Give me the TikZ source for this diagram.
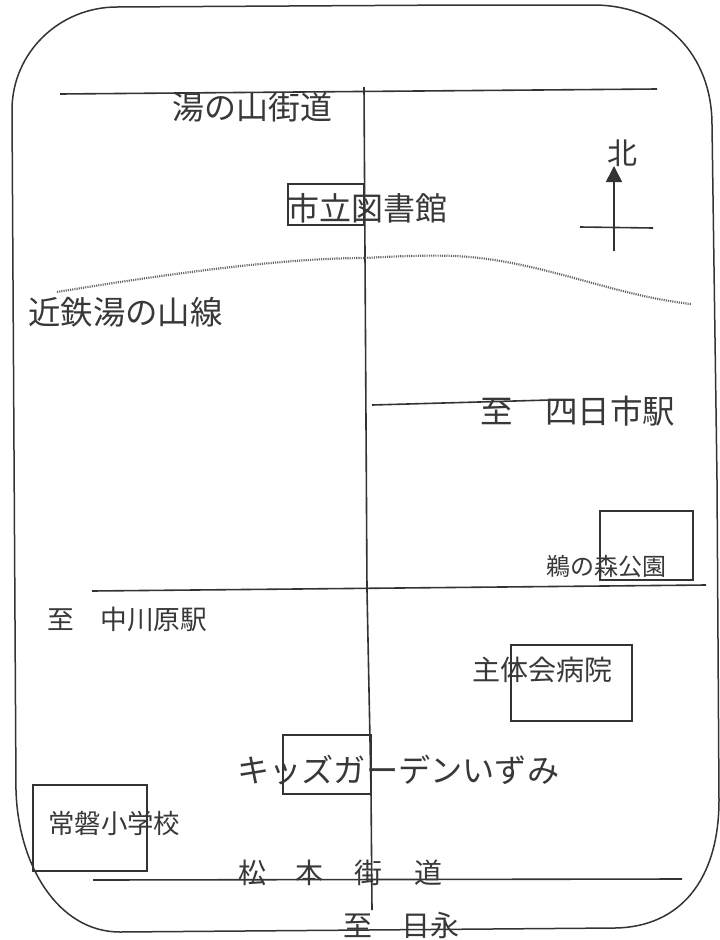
\documentclass[tikz,border=0pt]{standalone}
\usepackage{fontspec}
\setmainfont{Noto Sans CJK JP}
\usetikzlibrary{arrows.meta}
\definecolor{ink}{gray}{0.2}
\definecolor{txt}{gray}{0.22}
\tikzset{
  frameline/.style={draw=ink,line width=1.5pt},
  road/.style={draw=ink,line width=1.6pt},
  rail/.style={draw=ink!75,line width=2.2pt,dash pattern=on 1.1pt off 1.1pt},
  lbl/.style={text=txt,inner sep=0pt,anchor=west},
}
\newcommand{\sz}[1]{\fontsize{#1}{#1}\selectfont}
\begin{document}
\begin{tikzpicture}[x=1pt,y=-1pt]
\useasboundingbox (0,0) rectangle (720,940);
\fill[white] (0,0) rectangle (720,940);
\draw[frameline] (117,7) -- (460,5) -- (595,5)
  .. controls (665,6) and (712,55) .. (712,125)
  -- (717,480) -- (719,800) .. controls (719,880) and (680,927) .. (615,928)
  -- (120,932) .. controls (58,932) and (18,865) .. (16,790)
  -- (12,110) .. controls (12,53) and (59,7) .. (117,7) -- cycle;
\coordinate (a1) at (60,94); \coordinate (a2) at (657,89);
\coordinate (v1) at (364,87); \coordinate (v2) at (367,590); \coordinate (v3) at (371,790); \coordinate (v4) at (372,910);
\coordinate (b1) at (372,405); \coordinate (b2) at (550,400);
\coordinate (c1) at (92,591); \coordinate (c2) at (706,585);
\coordinate (d1) at (93,880); \coordinate (d2) at (682,879);
\coordinate (n1) at (614,251); \coordinate (n2) at (614,166);
\coordinate (n3) at (580,227); \coordinate (n4) at (653,228);
\draw[road] (a1)--(a2);
\draw[road] (v1)--(v2)--(v3)--(v4);
\draw[road] (b1)--(b2);
\draw[road] (c1)--(c2);
\draw[road] (d1)--(d2);
\draw[road,-{Triangle[length=16pt,width=16pt]}] (n1)--(n2);
\draw[road] (n3)--(n4);
\draw[rail] (57,292) .. controls (160,275) and (280,258) .. (365,258)
  .. controls (400,256) and (430,255) .. (455,256)
  .. controls (540,260) and (610,295) .. (691,304);
\draw[road] (288,184) rectangle (364,225);
\draw[road] (600,511) rectangle (693,580);
\draw[road] (511,645) rectangle (632,721);
\draw[road] (283,735) rectangle (371,794);
\draw[road] (33,785) rectangle (147,871);
\node[lbl] (t1) at (172,107) {\sz{32}湯の山街道};
\node[lbl] (t2) at (287,208) {\sz{32}市立図書館};
\node[lbl] (t3) at (28,312) {\sz{32.4}近鉄湯の山線};
\node[lbl] (t4) at (480,411) {\sz{32.5}至　四日市駅};
\node[lbl] (t5) at (546,566) {\sz{24}鵜の森公園};
\node[lbl] (t6) at (472,670) {\sz{28}主体会病院};
\node[lbl] (t7) at (47,619) {\sz{26.7}至　中川原駅};
\node[lbl] (t8) at (237,770) {\sz{32.2}キッズガーデンいずみ};
\node[lbl] (t9) at (48,823) {\sz{26.4}常磐小学校};
\node[lbl] (t10) at (238,873) {\sz{28}松};
\node[lbl] (t11) at (295,873) {\sz{28}本};
\node[lbl] (t12) at (354,873) {\sz{28}街};
\node[lbl] (t13) at (414,873) {\sz{28}道};
\node[lbl] (t14) at (343,925) {\sz{29}至　日永};
\node[lbl] (t15) at (607,153) {\sz{30}北};
\end{tikzpicture}
\end{document}
